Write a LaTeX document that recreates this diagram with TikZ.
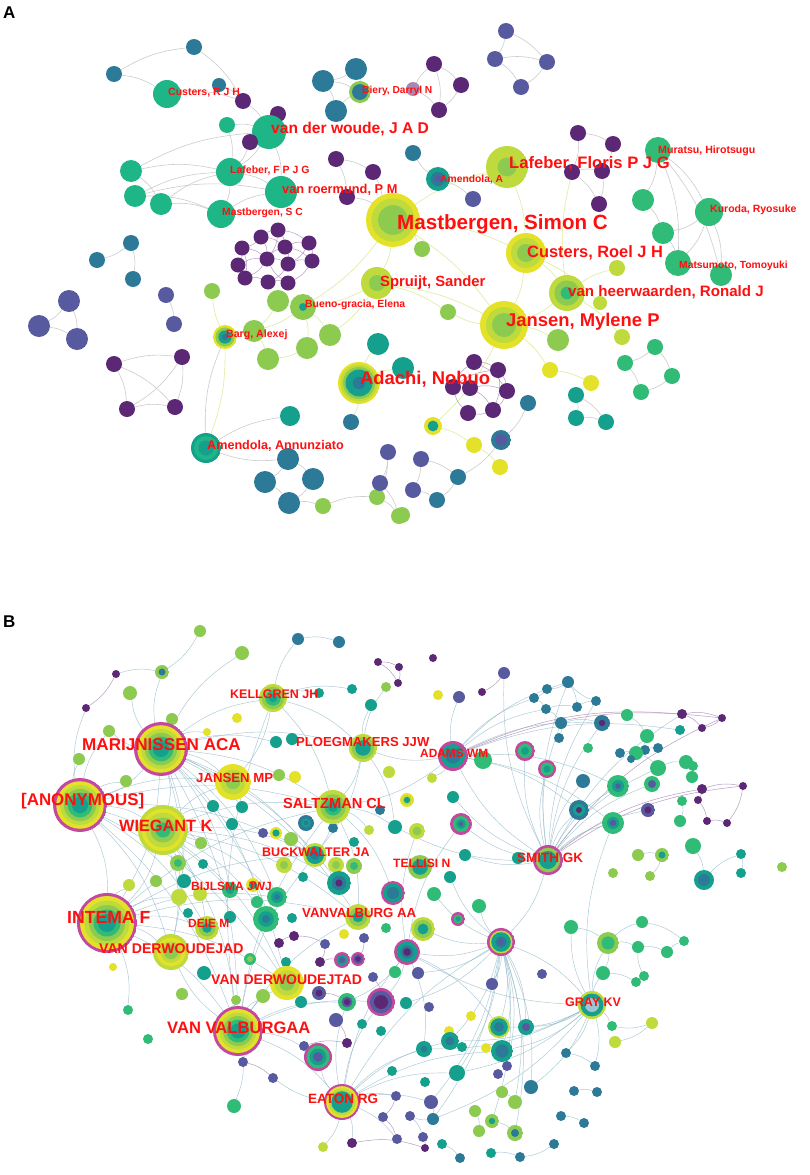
\documentclass[tikz,border=0pt]{standalone}
\usepackage{fontspec}
\setmainfont{Liberation Sans}
\usetikzlibrary{backgrounds}
\definecolor{pu}{RGB}{92,40,118}
\definecolor{sl}{RGB}{88,90,160}
\definecolor{bl}{RGB}{44,122,152}
\definecolor{te}{RGB}{20,160,140}
\definecolor{tg}{RGB}{30,182,135}
\definecolor{gr}{RGB}{48,188,118}
\definecolor{lg}{RGB}{140,202,80}
\definecolor{yg}{RGB}{190,218,60}
\definecolor{ye}{RGB}{228,226,40}
\definecolor{mg}{RGB}{196,72,160}
\definecolor{lred}{RGB}{255,16,16}
\begin{document}
\begin{tikzpicture}[x=1pt,y=-1pt,
  nbase/.style={circle,inner sep=0pt,outer sep=0pt,draw=none},
  nd/.style={nbase,minimum size={2*#1pt}},
  hub/.style 2 args={nbase,minimum size={2*#1pt},
     path picture={\foreach \f/\c in {#2}{\fill[\c] (path picture bounding box.center) circle[radius={\f*#1pt}];}}},
  labl/.style={anchor=base west,inner sep=0pt,text=lred,font={\fontsize{#1}{#1}\selectfont\bfseries}},
  ptag/.style={anchor=base west,inner sep=0pt,font={\fontsize{17}{17}\selectfont\bfseries}},
  ea/.style={draw=black!20,line width=0.6pt},
  ey/.style={draw=yg!50!white,line width=0.6pt},
  ep/.style={draw=pu!45!white,line width=0.5pt},
  eb/.style={draw=bl!55!white,line width=0.45pt,opacity=0.75}]
\useasboundingbox (0,0) rectangle (809,1175);
% ---------------- Panel A ----------------
\node[ptag] (tagA) at (3,18) {A};
\foreach \n/\x/\y/\r/\c in {a1/194/47/8/bl, a2/114/74/8/bl, a3/219/85/7/bl, a4/167/94/14/tg, a5/243/101/8/pu, a6/278/114/8/pu, a7/227/125/8/tg, a8/269/132/17/tg, a9/250/142/8/pu, a10/323/81/11/bl, a11/356/69/11/bl, a12/336/111/11/bl, a14/413/89/7/pu!55!white, a15/131/171/11/tg, a16/135/196/11/tg, a17/161/204/11/tg, a18/230/172/14/tg, a19/221/214/14/tg, a20/281/192/16/tg, a21/336/159/8/pu, a22/373/172/8/pu, a23/347/197/8/pu, a24/383/209/8/pu, a25/131/243/8/bl, a26/97/260/8/bl, a27/133/279/8/bl, a29/413/153/8/bl, a31/473/199/8/sl, a33/506/31/8/sl, a34/495/59/8/sl, a35/547/62/8/sl, a36/521/87/8/sl, a37/434/64/8/pu, a38/461/85/8/pu, a39/439/110/8/pu, a40/578/133/8/pu, a41/613/144/8/pu, a42/572/172/8/pu, a43/602/171/8/pu, a44/599/204/8/pu, a45/658/150/13/gr, a46/643/200/11/gr, a47/709/212/14/gr, a48/663/233/11/gr, a49/678/263/13/gr, a50/721/275/11/gr, a51/422/249/8/lg, a53/617/268/8/yg, a56/600/303/7/yg, a57/448/312/8/lg, a59/558/340/11/lg, a60/622/337/8/yg, a61/655/347/8/gr, a62/625/363/8/gr, a63/672/376/8/gr, a64/641/392/8/gr, a65/550/370/8/ye, a66/591/383/8/ye, a67/576/395/8/te, a68/576/418/8/te, a69/606/422/8/te, a70/474/362/8/pu, a71/498/370/8/pu, a72/507/391/8/pu, a73/493/410/8/pu, a74/468/413/8/pu, a75/453/387/8/pu, a76/470/388/8/pu, a77/528/403/8/bl, a79/474/445/8/ye, a80/500/467/8/ye, a82/421/459/8/sl, a83/413/490/8/sl, a84/458/477/8/bl, a85/437/500/8/bl, a86/402/515/8/lg, a87/69/301/11/sl, a88/39/326/11/sl, a89/77/339/11/sl, a90/166/295/8/sl, a91/174/324/8/sl, a92/212/291/8/lg, a93/114/364/8/pu, a94/182/357/8/pu, a95/127/409/8/pu, a96/175/407/8/pu, a97/278/301/11/lg, a100/254/331/11/lg, a101/330/335/11/lg, a102/307/348/11/lg, a103/268/359/11/lg, a104/378/344/11/te, a105/403/368/11/te, a107/290/416/10/te, a108/351/422/8/bl, a110/288/459/11/bl, a111/265/482/11/bl, a112/313/479/11/bl, a113/289/503/11/bl, a114/323/506/8/lg, a115/377/497/8/lg, a116/399/516/8/lg, a117/388/452/8/sl, a118/380/483/8/sl}
  \node[nd=\r,fill=\c] (\n) at (\x,\y) {};
\foreach \n/\x/\y in {c1/261/237, c2/278/230, c3/285/247, c4/309/243, c5/242/248, c6/267/259, c7/288/264, c8/312/261, c9/238/265, c10/245/278, c11/268/282, c12/288/283}
  \node[nd=7.5,fill=pu] (\n) at (\x,\y) {};
\node[hub={11}{1/lg,.72/bl}] (a13) at (360,92) {};
\node[hub={27}{1/ye,.8/yg,.55/lg}] (a28) at (393,220) {};
\node[hub={12}{1/te,.6/bl,.3/sl}] (a30) at (438,179) {};
\node[hub={21}{1/yg,.45/lg}] (a32) at (507,167) {};
\node[hub={20}{1/ye,.75/yg,.45/lg}] (a52) at (526,253) {};
\node[hub={16}{1/yg,.5/lg}] (a54) at (377,283) {};
\node[hub={18}{1/yg,.7/lg,.35/gr}] (a55) at (567,293) {};
\node[hub={24}{1/ye,.75/yg,.5/lg}] (a58) at (504,325) {};
\node[hub={9}{1/ye,.6/te}] (a78) at (433,426) {};
\node[hub={10}{1/bl,.6/sl}] (a81) at (501,440) {};
\node[hub={13}{1/lg,.3/te}] (a98) at (303,307) {};
\node[hub={12}{1/ye,.8/lg,.55/te,.25/bl}] (a99) at (225,337) {};
\node[hub={21}{1/ye,.88/yg,.76/lg,.64/te,.3/bl}] (a106) at (359,383) {};
\node[hub={15}{1/te,.8/tg,.5/te}] (a109) at (206,448) {};
% ---------------- Panel B ----------------
\node[ptag] (tagB) at (3,627) {B};
\foreach \n/\x/\y/\r/\c in {b1/200/631/6/lg, b2/298/639/6/bl, b3/339/642/6/bl, b4/242/653/7/lg, b5/378/662/4/pu, b6/399/667/4/pu, b7/398/683/4/pu, b8/116/674/4/pu, b9/86/708/4/pu, b11/130/693/7/lg, b13/319/693/5/te, b14/352/689/5/te, b15/371/705/6/te, b16/386/687/5/lg, b17/237/718/5/ye, b18/172/719/6/lg, b19/109/731/6/lg, b21/207/732/4/ye, b22/276/742/6/te, b23/292/739/6/te, b25/79/759/6/lg, b26/126/781/6/lg, b29/279/775/6/lg, b30/295/777/6/ye, b31/389/772/6/yg, b32/213/806/6/te, b33/242/807/6/te, b34/232/824/6/te, b38/333/828/5/bl, b39/380/810/5/bl, b40/395/827/7/te, b41/263/833/5/sl, b43/291/839/7/lg, b44/369/830/5/yg, b45/354/842/5/te, b47/201/843/6/lg, b49/203/864/5/te, b53/433/658/4/pu, b54/504/673/6/sl, b55/482/692/4/pu, b56/438/695/5/ye, b57/459/697/6/sl, b58/568/682/6/bl, b59/547/689/5/bl, b60/534/698/5/bl, b61/596/701/5/bl, b62/546/709/5/bl, b63/577/707/5/bl, b64/561/723/6/bl, b66/559/738/5/bl, b67/627/715/6/gr, b68/647/736/7/gr, b69/588/748/5/gr, b70/682/714/5/pu, b71/722/718/4/pu, b72/702/728/4/pu, b73/680/730/5/te, b74/620/753/5/bl, b75/645/750/5/bl, b76/658/748/5/bl, b77/636/753/7/gr, b78/631/759/4/bl, b79/658/768/8/gr, b80/686/762/7/gr, b81/693/766/5/gr, b82/692/777/6/gr, b84/483/760/9/gr, b88/432/778/5/yg, b89/583/781/7/bl, b92/702/789/5/pu, b93/743/786/4/pu, b94/698/800/4/pu, b95/707/821/4/pu, b96/727/823/4/pu, b97/682/801/5/gr, b98/680/821/6/gr, b104/453/797/6/te, b106/465/855/6/te, b107/518/858/6/te, b109/693/846/8/gr, b110/741/854/5/te, b111/741/873/5/te, b112/638/855/6/lg, b114/782/867/5/lg, b115/613/873/5/lg, b116/650/876/5/lg, b118/450/877/6/te, b119/434/894/7/gr, b120/479/906/7/gr, b125/571/927/7/gr, b127/642/922/6/gr, b128/638/947/6/gr, b129/667/952/6/gr, b130/684/941/5/gr, b131/603/973/7/gr, b132/636/982/5/gr, b133/644/976/5/gr, b134/418/973/6/sl, b135/492/984/6/sl, b136/542/974/5/sl, b137/406/1003/6/te, b138/429/1007/5/sl, b140/612/1026/5/gr, b141/652/1023/6/yg, b142/615/1042/6/yg, b143/471/1016/5/ye, b144/449/1031/5/ye, b145/486/1048/5/ye, b149/462/1047/5/te, b152/507/1066/5/sl, b153/498/1074/5/sl, b154/457/1073/8/te, b155/425/1082/5/te, b156/531/1087/7/bl, b157/566/1053/5/bl, b158/595/1066/5/bl, b159/574/1091/5/bl, b160/597/1092/5/bl, b161/561/1116/5/bl, b162/584/1123/5/bl, b163/554/1144/5/bl, b164/431/1102/7/sl, b165/433/1119/6/bl, b166/410/1116/5/sl, b167/423/1137/5/sl, b168/425/1148/4/pu, b169/502/1092/6/lg, b170/515/1102/7/lg, b171/475/1111/6/lg, b173/479/1131/6/lg, b175/442/1144/5/te, b176/460/1158/5/bl, b177/491/1153/5/te, b178/520/1157/5/bl, b181/113/967/4/ye, b182/129/885/6/yg, b183/156/881/6/lg, b184/184/881/7/te, b185/179/897/8/yg, b186/200/894/7/yg, b190/257/902/6/gr, b191/188/913/5/te, b192/230/917/6/te, b195/292/918/5/te, b197/344/934/5/ye, b198/386/928/5/gr, b201/279/943/5/pu, b202/294/936/5/pu, b203/325/944/5/sl, b204/320/962/5/pu, b205/364/938/5/sl, b208/395/972/6/gr, b209/204/973/7/te, b212/373/977/5/sl, b213/182/994/6/lg, b214/236/1000/5/lg, b215/263/996/7/lg, b216/301/1002/6/te, b220/336/1020/7/sl, b221/362/1024/5/te, b222/381/1031/5/te, b223/128/1010/5/gr, b224/148/1039/5/gr, b226/304/1046/5/sl, b227/347/1043/5/pu, b229/243/1062/5/sl, b230/273/1078/5/sl, b231/392/1071/5/te, b233/234/1106/7/gr, b234/396/1096/5/sl, b235/383/1117/5/sl, b236/397/1139/5/sl, b237/323/1147/5/yg, b238/352/1143/5/pu, b239/286/962/5/te, b241/303/877/5/te}
  \node[nd=\r,fill=\c] (\n) at (\x,\y) {};
\node[hub={7}{1/lg,.5/bl}] (b10) at (162,672) {};
\node[hub={14}{1/yg,.8/lg,.55/gr,.3/te}] (b12) at (273,698) {};
\node[hub={27}{1/mg,.88/ye,.74/yg,.6/lg,.46/gr,.3/te}] (b20) at (161,749) {};
\node[hub={14}{1/yg,.8/lg,.55/te}] (b24) at (363,748) {};
\node[hub={27}{1/mg,.88/ye,.74/yg,.6/lg,.46/gr,.3/te}] (b27) at (80,805) {};
\node[hub={18}{1/ye,.7/yg,.4/lg}] (b28) at (233,782) {};
\node[hub={25}{1/yg,.85/ye,.7/yg,.5/lg,.3/gr}] (b35) at (163,830) {};
\node[hub={17}{1/yg,.75/lg,.5/gr,.3/te}] (b36) at (333,807) {};
\node[hub={8}{1/bl,.6/te,.3/bl}] (b37) at (306,823) {};
\node[hub={6}{1/ye,.6/te}] (b42) at (276,833) {};
\node[hub={12}{1/yg,.75/te,.4/bl}] (b46) at (315,855) {};
\node[hub={8}{1/lg,.5/gr}] (b48) at (178,863) {};
\node[hub={8}{1/yg,.5/lg}] (b50) at (284,865) {};
\node[hub={8}{1/yg,.5/lg}] (b51) at (336,865) {};
\node[hub={8}{1/lg,.5/gr}] (b52) at (354,866) {};
\node[hub={8}{1/bl,.4/pu}] (b65) at (602,723) {};
\node[hub={15}{1/mg,.8/te,.5/bl}] (b83) at (453,756) {};
\node[hub={10}{1/mg,.72/gr,.4/te}] (b85) at (525,751) {};
\node[hub={9}{1/mg,.72/gr,.4/te}] (b86) at (547,769) {};
\node[hub={11}{1/mg,.72/gr,.45/te,.2/sl}] (b87) at (461,824) {};
\node[hub={11}{1/gr,.55/te,.25/sl}] (b90) at (618,786) {};
\node[hub={8}{1/gr,.5/sl}] (b91) at (652,784) {};
\node[hub={10}{1/bl,.6/te,.3/pu}] (b99) at (579,810) {};
\node[hub={7}{1/sl,.5/pu}] (b100) at (648,810) {};
\node[hub={11}{1/gr,.55/te,.3/sl}] (b101) at (613,823) {};
\node[hub={7}{1/ye,.7/yg,.45/te}] (b102) at (407,800) {};
\node[hub={8}{1/yg,.55/lg}] (b103) at (417,831) {};
\node[hub={15}{1/mg,.82/lg,.6/te}] (b105) at (548,860) {};
\node[hub={12}{1/lg,.65/te}] (b108) at (420,867) {};
\node[hub={7}{1/lg,.5/te}] (b113) at (662,855) {};
\node[hub={10}{1/te,.6/bl}] (b117) at (704,880) {};
\node[hub={7}{1/mg,.65/gr,.35/te}] (b121) at (458,919) {};
\node[hub={12}{1/yg,.75/lg,.45/te}] (b122) at (423,929) {};
\node[hub={13}{1/mg,.8/te,.5/bl,.3/pu}] (b123) at (407,952) {};
\node[hub={14}{1/mg,.82/yg,.7/te,.4/bl,.2/sl}] (b124) at (501,942) {};
\node[hub={11}{1/lg,.6/gr}] (b126) at (608,943) {};
\node[hub={14}{1/yg,.82/te,.5/bl!45!white}] (b139) at (592,1005) {};
\node[hub={11}{1/yg,.8/te,.45/bl}] (b146) at (499,1027) {};
\node[hub={8}{1/te,.5/sl}] (b147) at (526,1027) {};
\node[hub={9}{1/te,.5/bl}] (b148) at (450,1041) {};
\node[hub={8}{1/te,.4/bl}] (b150) at (424,1049) {};
\node[hub={11}{1/te,.6/bl}] (b151) at (502,1051) {};
\node[hub={7}{1/lg,.45/te}] (b172) at (492,1121) {};
\node[hub={8}{1/lg,.5/bl}] (b174) at (515,1133) {};
\node[hub={30}{1/mg,.9/ye,.75/yg,.6/lg,.45/gr,.3/te}] (b179) at (107,923) {};
\node[hub={18}{1/yg,.8/ye,.6/yg,.4/lg}] (b180) at (171,952) {};
\node[hub={8}{1/gr,.5/te}] (b187) at (230,890) {};
\node[hub={7}{1/ye,.6/te}] (b188) at (253,885) {};
\node[hub={10}{1/gr,.6/te,.3/bl}] (b189) at (277,897) {};
\node[hub={12}{1/yg,.7/lg,.4/te}] (b193) at (207,928) {};
\node[hub={13}{1/gr,.6/te,.3/bl}] (b194) at (266,919) {};
\node[hub={13}{1/yg,.7/lg,.4/te}] (b196) at (358,917) {};
\node[hub={12}{1/te,.6/bl,.3/pu}] (b199) at (339,883) {};
\node[hub={12}{1/mg,.8/te,.5/bl}] (b200) at (393,893) {};
\node[hub={8}{1/mg,.7/te,.4/sl}] (b206) at (342,960) {};
\node[hub={7}{1/mg,.7/sl,.4/pu}] (b207) at (358,959) {};
\node[hub={6}{1/gr,.5/lg}] (b210) at (250,959) {};
\node[hub={17}{1/ye,.75/yg,.45/lg}] (b211) at (287,983) {};
\node[hub={7}{1/sl,.5/pu}] (b217) at (319,993) {};
\node[hub={9}{1/gr,.6/sl,.35/pu}] (b218) at (347,1002) {};
\node[hub={14}{1/mg,.8/sl,.5/pu}] (b219) at (381,1002) {};
\node[hub={25}{1/mg,.88/ye,.74/yg,.6/lg,.46/gr,.3/te}] (b225) at (238,1031) {};
\node[hub={14}{1/mg,.82/gr,.6/te,.35/sl}] (b228) at (318,1057) {};
\node[hub={18}{1/mg,.88/ye,.75/yg,.6/te}] (b232) at (342,1102) {};
% ---------------- Connectors ----------------
\begin{pgfonlayer}{background}
\fill[white] (0,0) rectangle (809,1175);
\foreach \s/\t in {a2/a1, a2/a4, a1/a5, a4/a5, a5/a8, a6/a8, a7/a8, a9/a8, a8/a18, a8/a20, a15/a18, a15/a8, a16/a19, a17/a19, a16/a18, a17/a18, a18/a19, a18/a20, a19/a20, a7/a18, a9/a18, a3/a5, a15/a17, a16/a20, a10/a13, a11/a13, a12/a13, a10/a12, a11/a10, a37/a38, a38/a39, a37/a39, a14/a37, a14/a39, a33/a34, a33/a35, a34/a35, a34/a36, a35/a36, a21/a22, a21/a23, a22/a24, a23/a24, a40/a41, a40/a42, a41/a43, a42/a43, a42/a44, a43/a44, a45/a46, a45/a47, a46/a48, a47/a48, a48/a49, a47/a49, a49/a50, a45/a49, a47/a50, a45/a50, a25/a26, a25/a27, a87/a88, a87/a89, a88/a89, a90/a91, a93/a94, a93/a95, a94/a96, a95/a96, a93/a96, a94/a95, a61/a62, a61/a63, a62/a64, a63/a64, a67/a68, a68/a69, a67/a69, a77/a81, a81/a84, a82/a83, a82/a84, a83/a85, a84/a85, a110/a111, a110/a112, a111/a113, a112/a113, a110/a109, a109/a107, a109/a99, a114/a115, a115/a116, a117/a118, a117/a115, a118/a116, a113/a114, a30/a31, a30/a29}
  \draw[ea] (\s) to[bend left=12] (\t);
\foreach \s/\t in {a28/a52, a28/a54, a28/a58, a52/a58, a52/a55, a54/a58, a55/a58, a28/a32, a32/a30, a32/a52, a58/a57, a58/a59, a55/a60, a55/a53, a52/a56, a58/a65, a65/a66, a78/a79, a79/a80, a28/a51, a54/a57, a106/a104, a106/a105, a106/a108, a98/a97, a98/a100, a98/a101, a98/a102, a100/a103, a102/a103, a97/a100, a99/a100, a99/a92, a54/a98, a28/a98, a54/a101, a28/a24, a55/a42, a58/a78, a99/a109}
  \draw[ey] (\s) to[bend left=10] (\t);
\foreach \s/\t in {c1/c2, c1/c3, c2/c4, c3/c4, c1/c5, c5/c6, c6/c7, c7/c8, c4/c8, c3/c7, c6/c3, c9/c10, c10/c11, c11/c12, c6/c10, c7/c11, c5/c9, c1/c6, c2/c3, c8/c12, c9/c6, c3/c8, c2/c6, c4/c7, c5/c10, c12/c6, a70/a71, a71/a72, a72/a73, a73/a74, a74/a75, a75/a70, a70/a72, a71/a73, a76/a72, a76/a73, a75/a71}
  \draw[ep] (\s) to[bend left=15] (\t);
\foreach \s/\t in {b20/b27, b20/b35, b20/b28, b20/b12, b20/b24, b20/b36, b20/b46, b20/b180, b20/b179, b20/b185, b20/b187, b20/b189, b20/b194, b20/b199, b20/b196, b20/b211, b20/b225, b20/b10, b20/b11, b20/b19, b20/b4, b20/b21, b20/b22, b20/b33, b27/b35, b27/b179, b27/b180, b27/b26, b27/b25, b27/b28, b27/b36, b27/b193, b27/b187, b27/b211, b27/b225, b27/b46, b27/b19, b27/b9, b35/b179, b35/b180, b35/b28, b35/b36, b35/b46, b35/b189, b35/b194, b35/b199, b35/b211, b35/b225, b35/b196, b35/b193, b35/b185, b35/b32, b35/b47, b179/b180, b179/b193, b179/b211, b179/b225, b179/b185, b179/b189, b179/b196, b179/b46, b179/b36, b179/b223, b179/b182, b225/b211, b225/b180, b225/b228, b225/b232, b225/b219, b225/b218, b225/b196, b225/b46, b225/b36, b225/b12, b225/b233, b225/b229, b225/b214, b225/b215, b232/b228, b232/b151, b232/b150, b232/b148, b232/b164, b232/b154, b232/b124, b232/b219, b232/b218, b232/b123, b232/b236, b232/b234, b232/b238, b232/b237, b232/b230, b105/b83, b105/b87, b105/b54, b105/b58, b105/b64, b105/b65, b105/b89, b105/b90, b105/b99, b105/b101, b105/b100, b105/b91, b105/b70, b105/b79, b105/b124, b105/b40, b105/b85, b105/b86, b105/b61, b105/b104, b105/b106, b83/b58, b83/b60, b83/b62, b83/b65, b83/b90, b83/b99, b83/b101, b83/b24, b83/b36, b83/b57, b83/b73, b83/b88, b83/b84, b124/b146, b124/b147, b124/b148, b124/b151, b124/b154, b124/b156, b124/b139, b124/b152, b124/b135, b124/b172, b124/b174, b124/b170, b124/b118, b124/b134, b124/b137, b124/b123, b124/b164, b124/b165, b124/b120, b124/b119, b124/b122, b139/b146, b139/b147, b139/b148, b139/b150, b139/b151, b139/b154, b139/b157, b139/b158, b139/b156, b139/b165, b139/b126, b139/b125, b139/b101, b139/b131, b139/b140, b139/b123, b123/b219, b123/b218, b123/b87, b123/b103, b123/b122, b123/b146, b123/b150, b12/b24, b12/b28, b12/b36, b12/b2, b12/b13, b12/b14, b24/b36, b24/b46, b24/b16, b24/b15, b24/b40, b36/b46, b36/b196, b36/b200, b36/b40, b36/b44, b125/b126, b126/b127, b126/b128, b127/b130, b128/b129, b129/b130, b126/b131, b131/b132, b132/b133, b133/b128, b67/b68, b68/b77, b77/b79, b79/b80, b80/b81, b81/b82, b75/b76, b74/b77, b58/b59, b59/b60, b60/b62, b62/b63, b63/b61, b61/b58, b58/b63, b64/b65, b62/b64, b64/b66, b157/b158, b159/b160, b161/b162, b163/b178, b164/b165, b165/b166, b166/b167, b169/b170, b171/b173, b172/b174, b175/b176, b177/b178, b141/b140, b141/b142, b2/b3, b109/b117, b117/b110, b110/b111, b112/b113, b113/b116, b97/b98, b1/b10, b8/b10}
  \draw[eb] (\s) to[bend left=14] (\t);
\foreach \s/\t in {b92/b93, b92/b94, b94/b95, b95/b96, b93/b96, b70/b71, b71/b72, b70/b72, b5/b6, b6/b7, b5/b7, b8/b9, b105/b71, b105/b93, b105/b92, b83/b71, b83/b70, b201/b202, b202/b203, b203/b204, b204/b206, b206/b207, b205/b207, b212/b219, b217/b218, b220/b227, b226/b227, b229/b230, b235/b236, b234/b235, b238/b168, b167/b168, b54/b55}
  \draw[ep] (\s) to[bend left=14] (\t);
\end{pgfonlayer}
% ---------------- Labels ----------------
\node[labl=10.5] (lA1) at (168,95) {Custers, R J H};
\node[labl=15.6] (lA2) at (271,133) {van der woude, J A D};
\node[labl=10.2] (lA3) at (362,93) {Biery, Darryl N};
\node[labl=10.5] (lA4) at (230,173) {Lafeber, F P J G};
\node[labl=12.8] (lA5) at (282,193) {van roermund, P M};
\node[labl=10.3] (lA6) at (222,215) {Mastbergen, S C};
\node[labl=20.6] (lA7) at (397,229) {Mastbergen, Simon C};
\node[labl=10.3] (lA8) at (440,182) {Amendola, A};
\node[labl=16.6] (lA9) at (509,168) {Lafeber, Floris P J G};
\node[labl=10.6] (lA10) at (658,153) {Muratsu, Hirotsugu};
\node[labl=10.5] (lA11) at (710,212) {Kuroda, Ryosuke};
\node[labl=16.4] (lA12) at (527,257) {Custers, Roel J H};
\node[labl=10.3] (lA13) at (679,268) {Matsumoto, Tomoyuki};
\node[labl=14.8] (lA14) at (380,286) {Spruijt, Sander};
\node[labl=15.1] (lA15) at (568,296) {van heerwaarden, Ronald J};
\node[labl=18.4] (lA16) at (506,326) {Jansen, Mylene P};
\node[labl=10.4] (lA17) at (305,307) {Bueno-gracia, Elena};
\node[labl=10.6] (lA18) at (226,337) {Barg, Alexej};
\node[labl=18.4] (lA19) at (360,384) {Adachi, Nobuo};
\node[labl=12.6] (lA20) at (207,449) {Amendola, Annunziato};
\node[labl=12.5] (lB1) at (230,698) {KELLGREN JH};
\node[labl=17.1] (lB2) at (82,750) {MARIJNISSEN ACA};
\node[labl=13.1] (lB3) at (296,746) {PLOEGMAKERS JJW};
\node[labl=16.9] (lB4) at (21,805) {[ANONYMOUS]};
\node[labl=13.2] (lB5) at (196,782) {JANSEN MP};
\node[labl=16.3] (lB6) at (119,831) {WIEGANT K};
\node[labl=14.6] (lB7) at (283,808) {SALTZMAN CL};
\node[labl=12.5] (lB8) at (262,856) {BUCKWALTER JA};
\node[labl=11.9] (lB9) at (420,757) {ADAMS WM};
\node[labl=13.5] (lB10) at (517,862) {SMITH GK};
\node[labl=12.1] (lB11) at (393,867) {TELLISI N};
\node[labl=12.0] (lB12) at (191,890) {BIJLSMA JWJ};
\node[labl=17.6] (lB13) at (67,923) {INTEMA F};
\node[labl=11.9] (lB14) at (188,927) {DEIE M};
\node[labl=13.2] (lB15) at (302,917) {VANVALBURG AA};
\node[labl=14.1] (lB16) at (99,953) {VAN DERWOUDEJAD};
\node[labl=14.0] (lB17) at (211,984) {VAN DERWOUDEJTAD};
\node[labl=16.6] (lB18) at (167,1033) {VAN VALBURGAA};
\node[labl=13.5] (lB19) at (308,1103) {EATON RG};
\node[labl=12.5] (lB20) at (565,1006) {GRAY KV};
\end{tikzpicture}
\end{document}
